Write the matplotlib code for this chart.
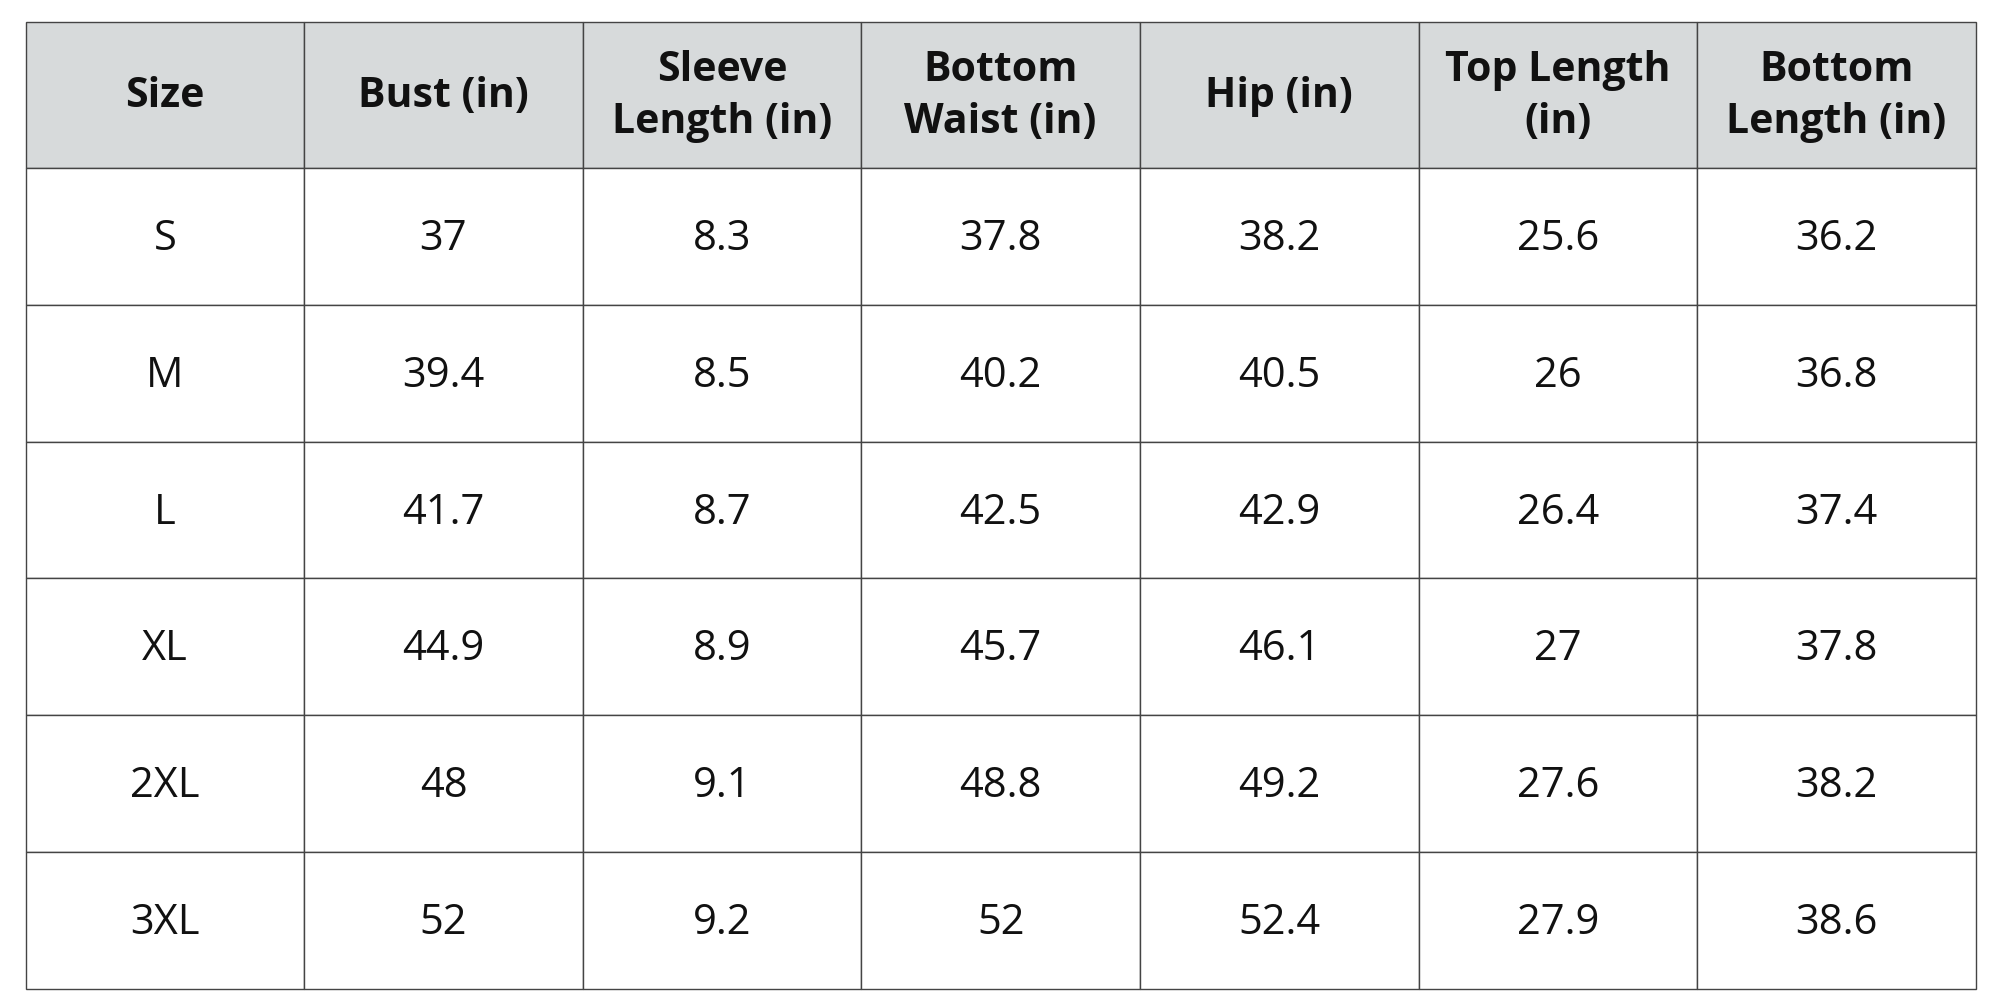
import matplotlib.pyplot as plt
from matplotlib.patches import Rectangle

# table content
headers = ["Size", "Bust (in)", "Sleeve\nLength (in)", "Bottom\nWaist (in)", "Hip (in)",
           "Top Length\n(in)", "Bottom\nLength (in)"]
sizes = ["S", "M", "L", "XL", "2XL", "3XL"]
bust = ["37", "39.4", "41.7", "44.9", "48", "52"]
sleeve = ["8.3", "8.5", "8.7", "8.9", "9.1", "9.2"]
waist = ["37.8", "40.2", "42.5", "45.7", "48.8", "52"]
hip = ["38.2", "40.5", "42.9", "46.1", "49.2", "52.4"]
top_len = ["25.6", "26", "26.4", "27", "27.6", "27.9"]
bottom_len = ["36.2", "36.8", "37.4", "37.8", "38.2", "38.6"]

columns = [sizes, bust, sleeve, waist, hip, top_len, bottom_len]

fig = plt.figure(figsize=(20, 10), dpi=100)
ax = fig.add_axes([0, 0, 1, 1])
W, H = 1565, 784
ax.set_xlim(0, W)
ax.set_ylim(H, 0)
ax.axis('off')

x0, x1 = 20, 1546
y0, yh, y1 = 17, 132, 775
cw = (x1 - x0) / len(headers)
rh = (y1 - yh) / len(sizes)

# header
for j, h in enumerate(headers):
    ax.add_patch(Rectangle((x0 + j * cw, y0), cw, yh - y0, facecolor='#d7dadb',
                           edgecolor='#444444', lw=1.0))
    ax.text(x0 + (j + 0.5) * cw, (y0 + yh) / 2 + 1, h, ha='center', va='center',
            fontsize=29.5, fontweight='bold', family='Open Sans', color='#111111',
            linespacing=1.35)

# body
for j, col in enumerate(columns):
    for i, v in enumerate(col):
        ax.add_patch(Rectangle((x0 + j * cw, yh + i * rh), cw, rh, facecolor='white',
                               edgecolor='#444444', lw=1.0))
        ax.text(x0 + (j + 0.5) * cw, yh + (i + 0.5) * rh + 2, v, ha='center', va='center',
                fontsize=30, family='Open Sans', color='#111111')

plt.savefig("out.png", dpi=100)
